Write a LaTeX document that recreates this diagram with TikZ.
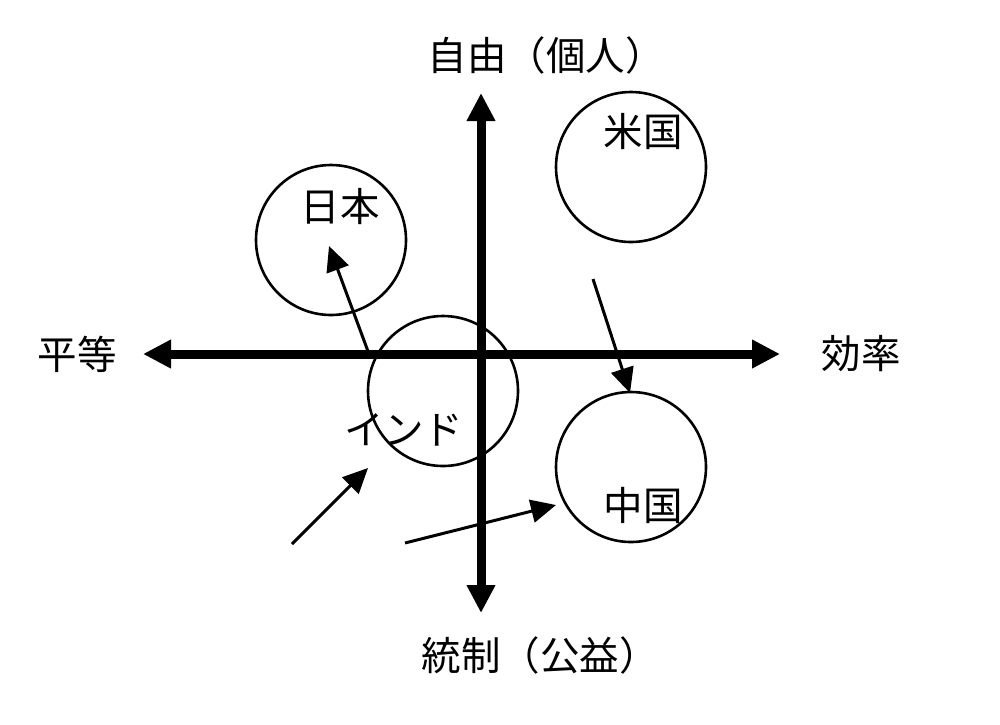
\documentclass[tikz,border=0pt]{standalone}
\usepackage{fontspec}
\setmainfont{Noto Sans CJK JP}
\usetikzlibrary{arrows.meta}
\begin{document}
\begin{tikzpicture}[x=1pt,y=-1pt,
  axis/.style={line width=9pt,-{Triangle[length=28pt,width=27pt]}},
  thinarrow/.style={line width=3pt,-{Triangle[length=25pt,width=23pt]}},
  country/.style={circle,draw,line width=2.6pt,minimum size=150pt,inner sep=0pt},
  lbl/.style={inner sep=0pt,font=\fontsize{39.5}{42}\selectfont}]
\useasboundingbox (0,0) rectangle (1000,724);
% axes
\coordinate (L) at (143,354);
\coordinate (R) at (780,354);
\coordinate (T) at (481,93);
\coordinate (B) at (481,613);
\coordinate (C) at (481,354);
\draw[axis] (C) -- (L);
\draw[axis] (C) -- (R);
\draw[axis] (C) -- (T);
\draw[axis] (C) -- (B);
% axis labels
\node[lbl] (top) at (546,55) {自由（個人）};
\node[lbl] (bottom) at (540,655) {統制（公益）};
\node[lbl] (left) at (77,354) {平等};
\node[lbl] (right) at (861,354) {効率};
% circles
\node[country] (jp) at (331,240) {};
\node[country] (us) at (631,167) {};
\node[country] (in) at (443,391) {};
\node[country] (cn) at (631,467) {};
% circle labels
\node[lbl] (jpl) at (340,207) {日本};
\node[lbl] (usl) at (643,132) {米国};
\node[lbl] (inl) at (404,430) {インド};
\node[lbl] (cnl) at (643,505) {中国};
% movement arrows
\coordinate (a1s) at (369,354);
\coordinate (a1e) at (329,246);
\draw[thinarrow] (a1s) -- (a1e);
\coordinate (a2s) at (593,279);
\coordinate (a2e) at (630,393);
\draw[thinarrow] (a2s) -- (a2e);
\coordinate (a3s) at (292,544);
\coordinate (a3e) at (368,468);
\draw[thinarrow] (a3s) -- (a3e);
\coordinate (a4s) at (405,543);
\coordinate (a4e) at (556,505);
\draw[thinarrow] (a4s) -- (a4e);
\end{tikzpicture}
\end{document}
